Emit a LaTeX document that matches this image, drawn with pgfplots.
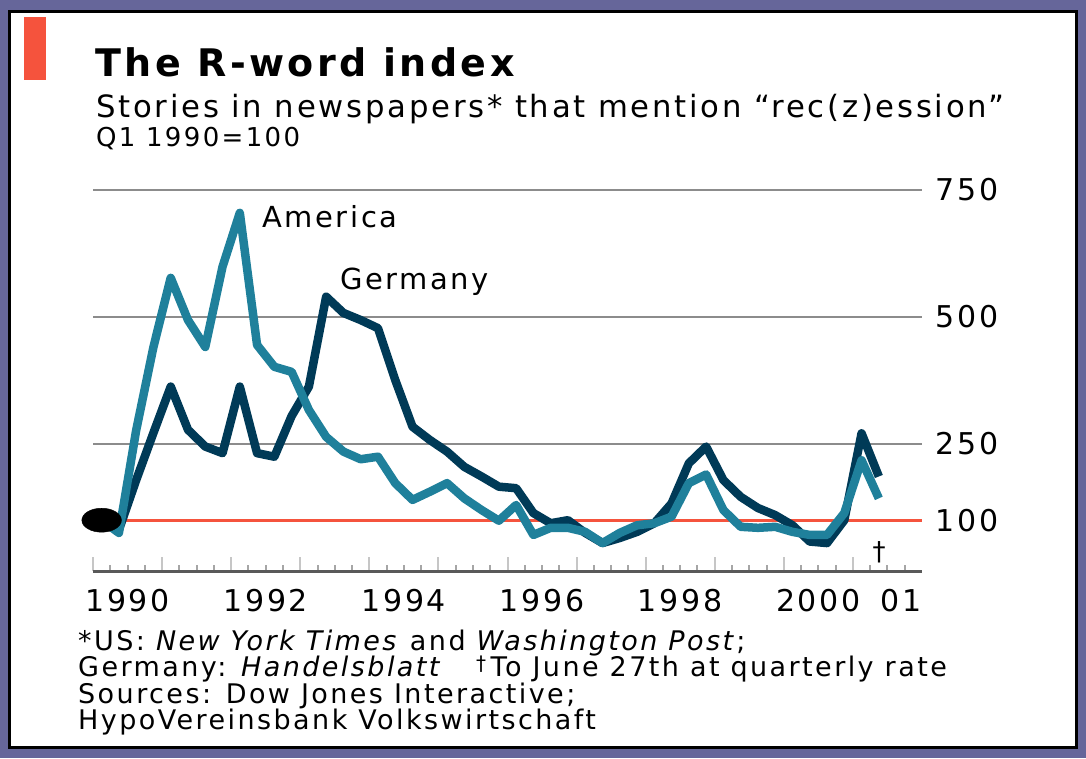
\documentclass[border=0pt]{standalone}
\usepackage{fontspec}
\setmainfont{DejaVu Sans}[LetterSpace=9]
\usepackage{pgfplots}
\pgfplotsset{compat=1.18}

\definecolor{usblue}{HTML}{1F809B}
\definecolor{deblue}{HTML}{003A57}
\definecolor{framecol}{HTML}{66669A}
\definecolor{redline}{HTML}{F5533D}

\begin{document}
\begin{tikzpicture}[x=1pt,y=1pt]
% frame
\fill[framecol] (0,0) rectangle (1086,758);
\fill[black] (8,9) rectangle (1078,748);
\fill[white] (11,12) rectangle (1075,745);
\fill[redline] (24,678) rectangle (46,741);

% titles
\node[anchor=base west, inner sep=0] at (95,681)
  {\fontsize{38}{42}\selectfont\bfseries The R-word index};
\node[anchor=base west, inner sep=0] at (96,640)
  {\fontsize{30.7}{36}\selectfont Stories in newspapers* that mention “rec(z)ession”};
\node[anchor=base west, inner sep=0] at (96,611)
  {\fontsize{26}{30}\selectfont Q1 1990=100};

\coordinate (axpos) at (93,187);
\begin{axis}[
  at={(axpos)}, anchor=south west,
  scale only axis, width=829pt, height=406.4pt,
  xmin=-0.5, xmax=47.5, ymin=0, ymax=800,
  clip=false,
  axis x line*=bottom, axis y line*=right,
  y axis line style={draw=none},
  x axis line style={draw=black!65, line width=3pt, -},
  xtick={-0.5,3.5,...,43.5}, xticklabels={},
  minor xtick={0.5,1.5,...,46.5},
  extra x ticks={1.5,9.5,17.5,25.5,33.5,41.5,46.3},
  extra x tick labels={1990,1992,1994,1996,1998,2000,01},
  extra x tick style={major tick length=0pt, tick style={draw=none}},
  tick align=inside,
  major tick length=14pt, minor tick length=6pt,
  x tick style={gray!45, line width=2pt},
  minor x tick style={gray!70, line width=2pt},
  ytick={250,500,750},
  extra y ticks={100},
  extra y tick style={ymajorgrids=true, major grid style={redline, line width=3pt}},
  ymajorgrids=true,
  major grid style={gray!90, line width=2.5pt},
  y tick style={draw=none},
  yticklabel pos=right,
  y tick label style={anchor=west, xshift=10pt},
  /pgf/number format/assume math mode=true,
  tick label style={font=\fontsize{30}{36}\selectfont},
  x tick label style={yshift=-15pt},
]
% Germany
\addplot[deblue, line width=8.5pt, line join=round] coordinates {
  (0,100)(1,81)(2,179)(3,272)(4,363)(5,278)(6,245)(7,232)(8,363)(9,232)
  (10,225)(11,305)(12,363)(13,540)(14,508)(15,494)(16,478)(17,376)(18,284)(19,258)
  (20,235)(21,205)(22,186)(23,166)(24,163)(25,114)(26,94)(27,100)(28,75)(29,55)
  (30,65)(31,77)(32,94)(33,133)(34,212)(35,245)(36,179)(37,146)(38,124)(39,110)
  (40,90)(41,58)(42,55)(43,100)(44,271)(45,186)
};
% America
\addplot[usblue, line width=8.5pt, line join=round] coordinates {
  (0,100)(1,75)(2,277)(3,441)(4,577)(5,494)(6,441)(7,599)(8,705)(9,445)
  (10,402)(11,392)(12,317)(13,264)(14,235)(15,220)(16,225)(17,173)(18,140)(19,156)
  (20,173)(21,143)(22,120)(23,99)(24,130)(25,71)(26,85)(27,85)(28,77)(29,55)
  (30,75)(31,90)(32,94)(33,107)(34,173)(35,190)(36,120)(37,87)(38,85)(39,87)
  (40,77)(41,71)(42,71)(43,114)(44,218)(45,143)
};
% base point
\addplot[only marks, mark=*, black, mark size=12pt, mark options={xscale=1.65}]
  coordinates {(0,100)};
\end{axis}

% series labels
\node[anchor=base west, inner sep=0] at (262,530) {\fontsize{29}{34}\selectfont America};
\node[anchor=base west, inner sep=0] at (340,468) {\fontsize{29}{34}\selectfont Germany};
\node[anchor=base, inner sep=0] at (879,198) {\fontsize{26}{30}\selectfont †};

% footnotes
\begin{scope}[every node/.style={anchor=base west, inner sep=0, font=\fontsize{27}{32}\selectfont}]
\node at (78,108) {*US: \textit{New York Times} and \textit{Washington Post};};
\node at (78,82) {Germany: \textit{Handelsblatt}};
\node at (476,82) {{\fontsize{20}{20}\selectfont\raisebox{6pt}{†}}\,To June 27th at quarterly rate};
\node at (78,55) {Sources: Dow Jones Interactive;};
\node at (78,29) {HypoVereinsbank Volkswirtschaft};
\end{scope}

\pgfresetboundingbox
\path[use as bounding box] (0,0) rectangle (1086,758);
\end{tikzpicture}
\end{document}
